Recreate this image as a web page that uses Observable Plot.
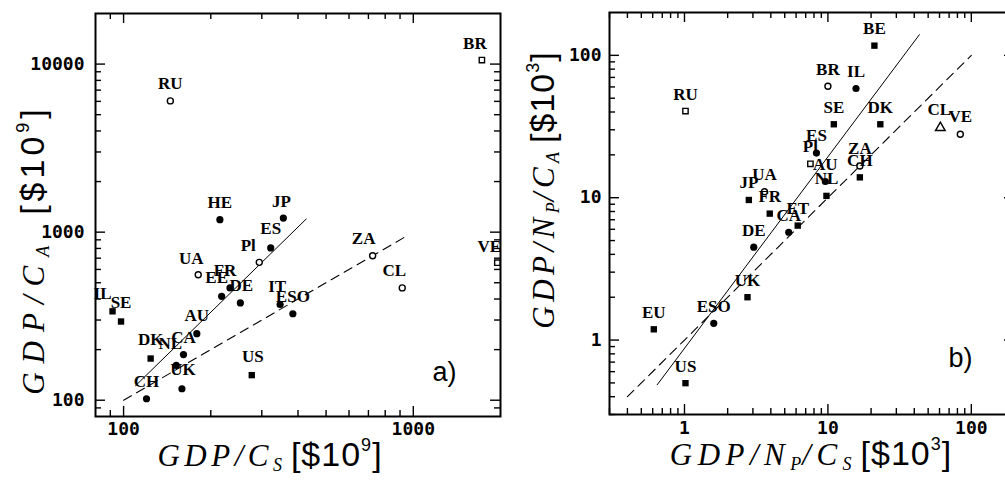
<!DOCTYPE html>
<html><head><meta charset="utf-8">
<script src="https://cdn.jsdelivr.net/npm/d3@7"></script>
<script src="https://cdn.jsdelivr.net/npm/@observablehq/plot@0.6"></script>
<style>
body{margin:0;background:#fff;width:1005px;height:482px;overflow:hidden;position:relative;}
#a{position:absolute;left:0;top:0;width:505px;height:482px}
#b{position:absolute;left:505px;top:0;width:520px;height:482px}
#a svg,#b svg{max-width:none !important;display:block}
.lab{position:absolute;white-space:nowrap;line-height:1;color:#000}
.lab i{font-family:"Liberation Serif",serif;font-size:31px;letter-spacing:4.5px}
.lab i sub{font-size:18px;vertical-align:-5px;letter-spacing:1px}
.lab .u{font-family:"Liberation Sans",sans-serif;font-size:34px;letter-spacing:1px}
.lab .u sup{font-size:18px;vertical-align:15px}
</style></head><body>
<div id="a"></div><div id="b"></div>
<div class="lab" id="xa" style="left:270px;top:436px;transform:translateX(-50%)"><i>GDP/C<sub>S</sub></i>&nbsp;&nbsp;<span class="u">[$10<sup>9</sup>]</span></div>
<div class="lab" id="ya" style="left:33px;top:250px;transform:translate(-50%,-50%) rotate(-90deg);letter-spacing:6px"><i style="letter-spacing:9px">GDP/C<sub>A</sub></i>&nbsp;&nbsp;&nbsp;<span class="u" style="letter-spacing:4px">[$10<sup>9</sup>]</span></div>
<div class="lab" id="xb" style="left:811px;top:435px;transform:translateX(-50%)"><i style="letter-spacing:5.5px">GDP/N<sub>P</sub>/C<sub>S</sub></i>&nbsp;&nbsp;<span class="u">[$10<sup>3</sup>]</span></div>
<div class="lab" id="yb" style="left:543px;top:190px;transform:translate(-50%,-50%) rotate(-90deg)"><i>GDP/N<sub>P</sub>/C<sub>A</sub></i>&nbsp;&nbsp;<span class="u">[$10<sup>3</sup>]</span></div>
<script>
// ---- panel a) GDP/C_A vs GDP/C_S  [$10^9]
const aCountry = ["RU","HE","JP","ES","Pl","ZA","CL","BR","VE","UA","EE","FR","DE","IT","ESO","AU","IL","SE","DK","CA","NL","UK","CH","US"];
const aX = [145,215,356,322,294,724,916,1725,1950,181,218,233,253,347,384,179,91.6,98,124,161,152,159,120,277];
const aY = [6040,1186,1213,806,661,724,466,10570,658,558,415,466,379,371,327,249,338,294,177,187,161,117,102,141];
const aMarker = ["oc","fc","fc","fc","oc","oc","oc","os","os","oc","fc","fc","fc","fc","fc","fc","fs","fs","fs","fc","fc","fc","fc","fs"];
const aFitX = [110, 427], aFitY = [122, 1197];
const aOneX = [100, 950], aOneY = [100, 950];
const aXMajor = [100, 1000], aXMinor = [90,200,300,400,500,600,700,800,900];
const aYMajor = [100, 1000, 10000], aYMinor = [90,200,300,400,500,600,700,800,900,2000,3000,4000,5000,6000,7000,8000,9000];

// ---- panel b) GDP/N_P/C_A vs GDP/N_P/C_S  [$10^3]
const bCountry = ["BE","BR","IL","SE","DK","CL","VE","ES","Pl","AU","NL","ZA","CH","JP","UA","FR","ET","CA","DE","UK","ESO","EU","US","RU"];
const bX = [21.1,10.0,15.7,11.0,23.2,60.8,83.8,8.32,7.55,9.6,9.77,16.7,16.7,2.81,3.61,3.93,6.16,5.33,3.04,2.75,1.60,0.611,1.016,1.016];
const bY = [117,60.7,58.5,32.8,32.8,31.0,27.9,20.6,17.3,13.0,10.3,16.7,13.9,9.64,11.0,7.73,6.37,5.72,4.49,2.0,1.31,1.19,0.498,40.6];
const bMarker = ["fs","oc","fc","fs","fs","ot","oc","fc","os","fc","fs","oc","fs","fs","oc","fs","fs","fc","fc","fs","fc","fs","fs","os"];
const bFitX = [0.645, 43.4], bFitY = [0.485, 139.6];
const bOneX = [0.4, 100], bOneY = [0.4, 100];
const bXMajor = [1, 10, 100], bXMinor = [0.3,0.4,0.5,0.6,0.7,0.8,0.9,2,3,4,5,6,7,8,9,20,30,40,50,60,70,80,90];
const bYMajor = [1, 10, 100], bYMinor = bXMinor;

// label nudges (style only)
const aNudge = {Pl:[-11,-17],ZA:[-9,-17],CL:[-8,-17],UA:[-7,-16],IL:[-10,-18],SE:[0,-19],EE:[-5,-19],FR:[-5,-17],DE:[1,-17],
  BR:[-7,-16],VE:[-8,-16],NL:[-6,-22],CA:[0,-17],DK:[0,-19],AU:[0,-18],UK:[1,-19],US:[1,-19],ES:[0,-19],JP:[-2,-17],IT:[-3,-18],ESO:[0,-17]};
const bNudge = {CL:[-1,-18],VE:[0,-18]};

const markerStyle = {
  fc: {symbol:"circle", r:3.6, fill:"black", stroke:"none"},
  fs: {symbol:"square", r:3.6, fill:"black", stroke:"none"},
  oc: {symbol:"circle", r:3.0, fill:"white", stroke:"black", strokeWidth:1.4},
  os: {symbol:"square", r:3.0, fill:"white", stroke:"black", strokeWidth:1.4},
  ot: {symbol:"triangle", r:3.6, fill:"white", stroke:"black", strokeWidth:1.4}
};
const tickFont = {fontFamily:"DejaVu Sans Mono", fontWeight:"bold", fontSize:18, fill:"black"};

function panel(p) {
  const idx = d3.range(p.labels.length);
  const two = [0, 1];
  const H = 482 - p.mt - p.mb, W = p.width - p.ml - p.mr;
  const tk = {stroke:"black", strokeWidth:1.4};
  const marks = [];
  // inward ticks on all four sides
  for (const [vals, len] of [[p.xMajor, 10], [p.xMinor, 6]]) {
    marks.push(Plot.ruleX(vals, {x:d=>d, insetTop:H-len, ...tk}));
    marks.push(Plot.ruleX(vals, {x:d=>d, insetBottom:H-len, ...tk}));
  }
  for (const [vals, len] of [[p.yMajor, 10], [p.yMinor, 6]]) {
    marks.push(Plot.ruleY(vals, {y:d=>d, insetRight:W-len, ...tk}));
    marks.push(Plot.ruleY(vals, {y:d=>d, insetLeft:W-len, ...tk}));
  }
  marks.push(Plot.frame({stroke:"black", strokeWidth:2}));
  marks.push(Plot.line(two, {x:i=>p.fitX[i], y:i=>p.fitY[i], stroke:"black", strokeWidth:1}));
  marks.push(Plot.line(two, {x:i=>p.oneX[i], y:i=>p.oneY[i], stroke:"black", strokeWidth:1.1, strokeDasharray:"9,6"}));
  for (const key of Object.keys(markerStyle)) {
    marks.push(Plot.dot(idx.filter(i=>p.markers[i]===key), {x:i=>p.xs[i], y:i=>p.ys[i], ...markerStyle[key]}));
  }
  for (const i of idx) {
    const [dx, dy] = p.nudge[p.labels[i]] || [0, -17];
    marks.push(Plot.text([i], {x:i=>p.xs[i], y:i=>p.ys[i], text:i=>p.labels[i], dx, dy,
      fontFamily:"Liberation Serif", fontWeight:"bold", fontSize:17, fill:"black"}));
  }
  marks.push(Plot.text(p.xMajor, {x:d=>d, frameAnchor:"bottom", dy:p.xTickDy, text:d=>String(d), ...tickFont}));
  marks.push(Plot.text(p.yMajor, {y:d=>d, frameAnchor:"left", dx:p.yTickDx, textAnchor:"end", text:d=>String(d), ...tickFont}));
  marks.push(Plot.text([p.tag], {frameAnchor:"bottom-right", dx:p.tagDx, dy:p.tagDy, textAnchor:"end", text:d=>d,
    fontFamily:"Liberation Sans", fontSize:27, fill:"black"}));
  return Plot.plot({
    width:p.width, height:482, marginLeft:p.ml, marginRight:p.mr, marginTop:p.mt, marginBottom:p.mb,
    x:{type:"log", domain:p.xDomain, axis:null},
    y:{type:"log", domain:p.yDomain, axis:null},
    style:{background:"white", overflow:"visible", maxWidth:"none"},
    marks
  });
}

document.getElementById("a").append(panel({
  labels:aCountry, xs:aX, ys:aY, markers:aMarker, fitX:aFitX, fitY:aFitY, oneX:aOneX, oneY:aOneY,
  xMajor:aXMajor, xMinor:aXMinor, yMajor:aYMajor, yMinor:aYMinor, nudge:aNudge,
  xDomain:[80,2000], yDomain:[80,20000], width:505, ml:95, mr:5, mt:13, mb:66,
  xTickDy:18, yTickDx:-11, tag:"a)", tagDx:-44, tagDy:-36
}));
document.getElementById("b").append(panel({
  labels:bCountry, xs:bX, ys:bY, markers:bMarker, fitX:bFitX, fitY:bFitY, oneX:bOneX, oneY:bOneY,
  xMajor:bXMajor, xMinor:bXMinor, yMajor:bYMajor, yMinor:bYMinor, nudge:bNudge,
  xDomain:[0.3,200], yDomain:[0.3,200], width:520, ml:104, mr:11, mt:12, mb:68,
  xTickDy:19, yTickDx:-8, tag:"b)", tagDx:-42, tagDy:-48
}));
</script>
</body></html>
